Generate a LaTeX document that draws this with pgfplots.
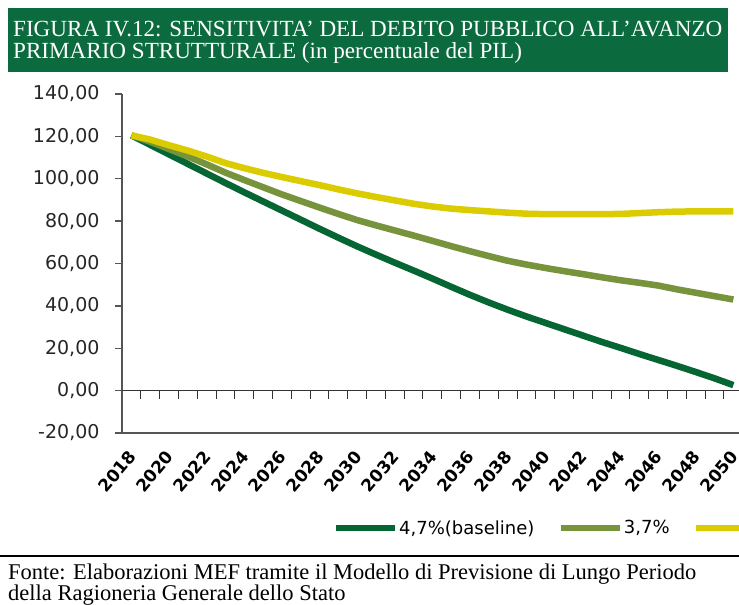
\documentclass[border=0pt]{standalone}
\usepackage{pgfplots}
\usepackage{pgfplotstable}
\pgfplotsset{compat=1.18}
\usepackage{fontspec}
\setmainfont{DejaVu Sans}
\newfontfamily\timesf{Liberation Serif}
\definecolor{banner}{RGB}{12,107,62}
\definecolor{cgreen}{RGB}{6,102,51}
\definecolor{colive}{RGB}{119,147,60}
\definecolor{cyellow}{RGB}{218,204,0}
\definecolor{axgray}{RGB}{85,85,85}
\pgfplotstableread{
year base p37 p27
2018 120.5 120.5 120.5
2019 116.0 117.5 118.5
2020 111.5 114.0 115.8
2021 107.0 110.5 113.3
2022 102.5 106.8 110.5
2023 98.0 102.9 107.4
2024 93.6 99.4 105.0
2025 89.3 96.0 102.8
2026 85.0 92.6 100.8
2027 80.7 89.5 98.9
2028 76.4 86.4 97.0
2029 72.2 83.4 95.0
2030 68.1 80.5 93.1
2031 64.2 78.0 91.4
2032 60.4 75.6 89.8
2033 56.7 73.2 88.2
2034 52.9 70.7 86.9
2035 49.0 68.2 85.9
2036 45.2 65.8 85.2
2037 41.6 63.5 84.6
2038 38.2 61.3 84.0
2039 35.0 59.5 83.5
2040 32.0 57.9 83.3
2041 29.0 56.4 83.3
2042 26.0 55.0 83.3
2043 23.0 53.5 83.3
2044 20.2 52.1 83.4
2045 17.3 50.9 83.8
2046 14.5 49.6 84.2
2047 11.7 47.8 84.5
2048 8.8 46.2 84.6
2049 5.8 44.6 84.6
2050 2.6 43.0 84.6
}\debttable
\begin{document}
\begin{tikzpicture}
\useasboundingbox (0pt,0pt) rectangle (739pt,-605pt);
\clip (0pt,0pt) rectangle (739pt,-605pt);
\fill[banner] (8pt,-8pt) rectangle (728pt,-72pt);
\node[anchor=base west, inner sep=0, text=white, font=\timesf\fontsize{23.1}{23.1}\selectfont] at (13pt,-36pt) {FIGURA IV.12: SENSITIVITA’ DEL DEBITO PUBBLICO ALL’AVANZO};
\node[anchor=base west, inner sep=0, text=white, font=\timesf\fontsize{23.1}{23.1}\selectfont] at (13pt,-58.3pt) {PRIMARIO STRUTTURALE (in percentuale del PIL)};
\begin{axis}[
  at={(122pt,-433pt)}, anchor=south west, scale only axis,
  width=617pt, height=339pt,
  xmin=2017.5, xmax=2050.3, ymin=-20, ymax=140,
  axis x line*=bottom, axis y line*=left,
  axis line style={axgray, line width=1.3pt},
  ytick={-20,0,...,140},
  xtick={2018,2020,...,2050},
  xticklabels={2018,2020,2022,2024,2026,2028,2030,2032,2034,2036,2038,2040,2042,2044,2046,2048,2050},
  x tick style={draw=none},
  y tick style={axgray, line width=1.3pt},
  tick align=outside, major tick length=7pt,
  yticklabel style={font=\fontsize{19}{19}\selectfont, text=black!85, anchor=east, xshift=-12pt,
    /pgf/number format/.cd, fixed, fixed zerofill, precision=2, use comma, 1000 sep={}, assume math mode=true},
  xticklabel style={xshift=3pt, yshift=-11pt, rotate=50, anchor=east, font=\bfseries\fontsize{17}{17}\selectfont},
  legend style={draw=none, fill=none, at={(0.342,-0.28)}, anchor=west, inner sep=0pt,
    font=\fontsize{18}{18}\selectfont, nodes={inner sep=1.5pt},
    /tikz/every even column/.append style={column sep=22pt}},
  legend columns=-1,
  legend image code/.code={\draw[#1, line width=5.5pt] (0pt,0pt) -- (59pt,0pt);},
  every axis plot/.append style={line width=6.5pt, line join=round},
]
\addplot[cgreen] table[x=year, y=base] {\debttable};
\addlegendentry{4,7\%(baseline)}
\addplot[colive] table[x=year, y=p37] {\debttable};
\addlegendentry{3,7\%}
\addplot[cyellow] table[x=year, y=p27] {\debttable};
\addlegendentry{2,7\%}
\draw[black!80, line width=1pt] (axis cs:2017.5,0) -- (axis cs:2051,0);
\pgfplotsinvokeforeach{2018.5,2019.5,...,2050.5}{
  \draw[black!80, line width=1pt] (axis cs:#1,0) -- ++(0pt,-8pt);
}
\end{axis}
\draw[black, line width=2pt] (0pt,-556pt) -- (739pt,-556pt);
\node[anchor=base west, inner sep=0, font=\timesf\fontsize{22.5}{22.5}\selectfont] at (8pt,-579pt) {Fonte: Elaborazioni MEF tramite il Modello di Previsione di Lungo Periodo};
\node[anchor=base west, inner sep=0, font=\timesf\fontsize{22.5}{22.5}\selectfont] at (8pt,-600pt) {della Ragioneria Generale dello Stato};
\end{tikzpicture}
\end{document}
